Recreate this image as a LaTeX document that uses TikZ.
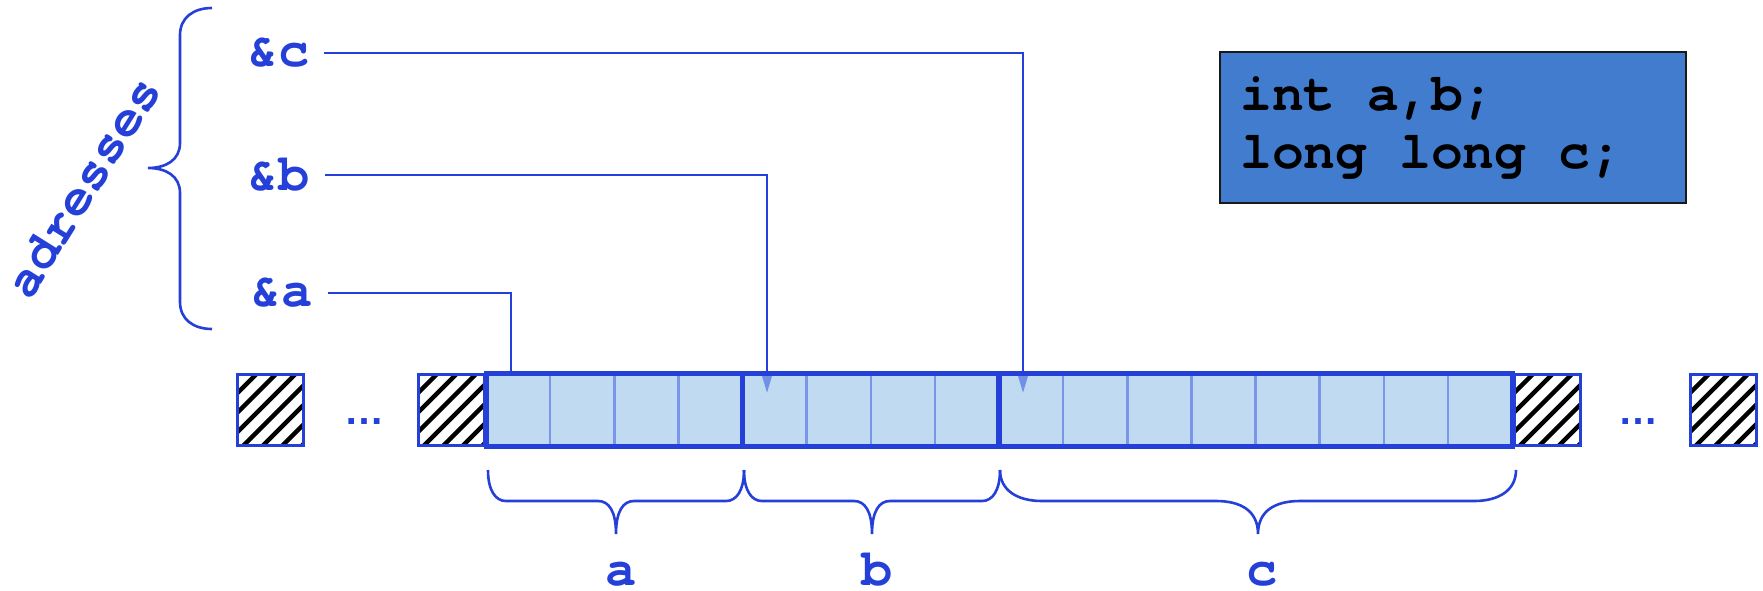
\documentclass[tikz,border=0pt]{standalone}
\usepackage{fontspec}
\setmonofont{TeX Gyre Cursor}
\newfontfamily\dotsfont{Liberation Sans}
\usetikzlibrary{arrows.meta}
\definecolor{mblue}{HTML}{2440D8}
\definecolor{tipblue}{HTML}{7290E6}
\definecolor{cellfill}{HTML}{C0DAF2}
\definecolor{cellline}{HTML}{7A96E8}
\definecolor{codefill}{HTML}{427CCF}
\newcommand\membrace[3]{%
  \pgfmathsetmacro\bracemidx{(#1+#2)/2}%
  \draw[brc] (#1,470) .. controls (#1,490) and ({#1+0.4*#3},501) .. ({#1+#3},501)
    -- ({\bracemidx-#3},501) .. controls ({\bracemidx-0.4*#3},501) and (\bracemidx,511) .. (\bracemidx,534)
    .. controls (\bracemidx,511) and ({\bracemidx+0.4*#3},501) .. ({\bracemidx+#3},501)
    -- ({#2-#3},501) .. controls ({#2-0.4*#3},501) and (#2,490) .. (#2,470);}
\begin{document}
\begin{tikzpicture}[x=1pt,y=-1pt,
  lbl/.style={text=mblue, font=\fontsize{52}{58}\selectfont\ttfamily\bfseries, inner sep=0pt},
  codetxt/.style={text=black, font=\fontsize{53}{58}\selectfont\ttfamily\bfseries, inner sep=0pt, anchor=base west},
  conn/.style={mblue, line width=2.6pt},
  brc/.style={mblue, line width=2.6pt},
  hatchbox/.style={draw=mblue, line width=3pt, minimum width=66pt, minimum height=71pt, inner sep=0pt,
    path picture={\foreach \i in {-5,...,4}{\draw[black,line width=4.5pt] ([xshift=\i*19.5pt+6pt]path picture bounding box.south west) -- ++(100pt,100pt);}}},
  codebox/.style={draw=black!90, fill=codefill, line width=2pt, inner sep=0pt, anchor=north west},
  dots/.style={text=mblue, font=\fontsize{40}{44}\selectfont\dotsfont\bfseries, inner sep=0pt, anchor=base}
]
\useasboundingbox (0,0) rectangle (1763,590);

% left brace and rotated label
\draw[brc] (212,8) .. controls (193,8) and (180,18) .. (180,35) -- (180,143)
  .. controls (180,160) and (166,168) .. (148,168)
  .. controls (166,168) and (180,176) .. (180,193) -- (180,302)
  .. controls (180,319) and (193,329) .. (212,329);
\node[lbl, rotate=58] (adr) at (83,187) {adresses};

% address labels
\node[lbl, anchor=east] (ac) at (310,53) {\&c};
\node[lbl, anchor=east] (ab) at (310,175) {\&b};
\node[lbl, anchor=east] (aa) at (313,293) {\&a};

% code box
\node[codebox, minimum width=466pt, minimum height=151pt] (code) at (1219,51) {};
\node[codetxt] (ct1) at (1240,110) {int a,b;};
\node[codetxt] (ct2) at (1240,168) {long long c;};

% hatched cells and dots
\node[hatchbox] (h1) at (270.5,410) {};
\node[hatchbox] (h2) at (451,410) {};
\node[hatchbox] (h3) at (1547,410) {};
\node[hatchbox] (h4) at (1723,410) {};
\node[dots] (d1) at (364,424) {\char"2026};
\node[dots] (d2) at (1638,424) {\char"2026};

% memory strip
\fill[cellfill] (486,373) rectangle (1512,446);
\foreach \k in {1,2,3,5,6,7,9,10,11,12,13,14,15}
  \draw[cellline, line width=2.5pt] ({486+\k*64.125},375) -- ({486+\k*64.125},444);
\coordinate (pa) at (511,373);
\coordinate (pb) at (767,393);
\coordinate (pc) at (1023,393);

% connectors
\draw[conn] ([xshift=15pt]aa.east) -| (pa);
\draw[conn, -{Triangle[length=20pt,width=11pt,color=tipblue]}] ([xshift=15pt]ab.east) -| (pb);
\draw[conn, -{Triangle[length=20pt,width=11pt,color=tipblue]}] ([xshift=14pt]ac.east) -| (pc);

% strip borders
\draw[mblue, line width=5pt] (486,373) rectangle (1512,446);
\draw[mblue, line width=5.5pt] (742.5,373) -- (742.5,446);
\draw[mblue, line width=5.5pt] (999,373) -- (999,446);

% bottom braces and labels
\membrace{488}{744}{18}
\membrace{744}{1000}{18}
\membrace{1000}{1516}{42}
\node[lbl, anchor=base] (la) at (621,585) {a};
\node[lbl, anchor=base] (lb) at (877,585) {b};
\node[lbl, anchor=base] (lc) at (1262,585) {c};
\end{tikzpicture}
\end{document}
